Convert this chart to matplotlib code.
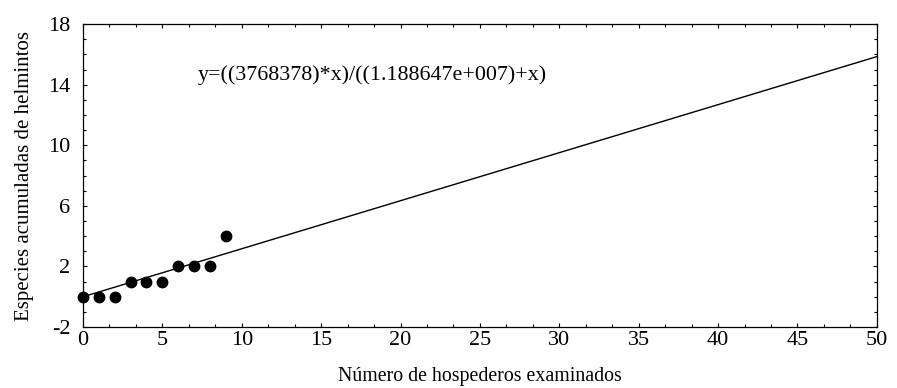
import numpy as np
import matplotlib.pyplot as plt
from matplotlib.ticker import MultipleLocator

plt.rcParams['font.family'] = ['Liberation Serif', 'DejaVu Serif']
plt.rcParams['axes.unicode_minus'] = False

# Observed cumulative species per examined host
hosts = [0, 1, 2, 3, 4, 5, 6, 7, 8, 9]
species = [0, 0, 0, 1, 1, 1, 2, 2, 2, 4]
y_ticks = [-2, 2, 6, 10, 14, 18]

# Fitted curve parameters (from the equation shown on the plot)
a = 3768378
b = 1.188647e7
x_fit = np.linspace(0, 50, 200)
y_fit = (a * x_fit) / (b + x_fit)

fig = plt.figure(figsize=(8.97, 3.88), dpi=100)
ax = fig.add_axes([0.0925, 0.157, 0.885, 0.781])

ax.plot(x_fit, y_fit, color="black", linewidth=1.0)
ax.plot(hosts, species, "o", color="black", markersize=7.5, clip_on=False)

ax.text(7.2, 14.6, "y=((3768378)*x)/((1.188647e+007)+x)", fontsize=15.8, va="center")

ax.set_xlim(0, 50)
ax.set_ylim(-2, 18)
ax.xaxis.set_major_locator(MultipleLocator(5))
ax.xaxis.set_minor_locator(MultipleLocator(5 / 3))
ax.set_yticks(y_ticks)
ax.yaxis.set_minor_locator(MultipleLocator(1))
ax.tick_params(which="both", direction="in", top=True, right=True, labelsize=16)
ax.tick_params(axis="x", pad=3)
ax.tick_params(axis="y", pad=9)
ax.tick_params(which="major", length=3, width=0.8)
ax.tick_params(which="minor", length=2, width=0.8)
for s in ax.spines.values():
    s.set_linewidth(0.9)

ax.set_xlabel("Número de hospederos examinados", fontsize=14.3, labelpad=12)
ax.set_ylabel("Especies acumuladas de helmintos", fontsize=15, labelpad=10)

fig.savefig("out.png", dpi=100)
